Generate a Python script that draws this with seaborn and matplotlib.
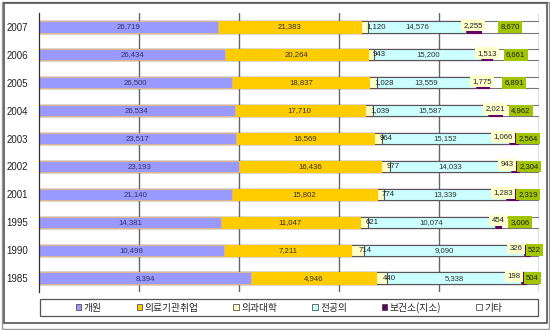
import numpy as np
import pandas as pd
import matplotlib
matplotlib.use("Agg")
import matplotlib.pyplot as plt
import seaborn as sns
from matplotlib.patches import Patch, Rectangle

years = ['2007', '2006', '2005', '2004', '2003', '2002', '2001', '1995', '1990', '1985']
series_names = ['개원', '의료기관취업', '의과대학', '전공의', '보건소(지소)', '기타']
gaewon = [26719, 26434, 26500, 26534, 23517, 23193, 21140, 14381, 10498, 8394]
uiryo = [21383, 20264, 18837, 17710, 16569, 16436, 15802, 11047, 7211, 4946]
uidae = [1120, 943, 1028, 1039, 964, 977, 774, 621, 714, 440]
jeongong = [14576, 15200, 13559, 15587, 15152, 14033, 13339, 10074, 9090, 5338]
bogeonso = [2255, 1513, 1775, 2021, 1066, 943, 1283, 454, 326, 198]
gita = [8670, 6661, 6891, 4962, 2564, 2304, 2319, 3006, 522, 504]

colors = ['#9999FF', '#FFCC00', '#FFFFCC', '#CCFFFF', '#660066', '#FFFFFF']
edges = ['#D8B890', '#FFCC00', '#555555', '#555555', '#660066', '#777777']
label_colors = ['#333366', '#333333', '#222222', '#333333', '#222222', '#222222']
label_bg = [None, None, None, None, '#FFFFCC', '#A3C400']

sns.set_theme(style="white")
plt.rcParams['font.family'] = ['Liberation Sans', 'Noto Sans CJK KR', 'DejaVu Sans']

values = np.array([gaewon, uiryo, uidae, jeongong, bogeonso, gita], dtype=float)
totals = values.sum(axis=0)
shares = values / totals
cum = np.cumsum(shares, axis=0)

fig = plt.figure(figsize=(5.5, 3.3), dpi=100)
ax = fig.add_axes([39 / 550, 1 - 292 / 330, 500 / 550, (292 - 13) / 330])

for gx in [0.2, 0.4, 0.6, 0.8, 1.0]:
    ax.axvline(gx, color='#666666', lw=1.0, zorder=0)

for i in range(len(series_names) - 1, -1, -1):
    df = pd.DataFrame({'year': years, 'cum': cum[i]})
    sns.barplot(data=df, x='cum', y='year', order=years, orient='h',
                color=colors[i], edgecolor=edges[i], linewidth=0.8,
                width=0.4, saturation=1, ax=ax, zorder=2)

ax.set_xlim(0, 1)
ax.set_ylim(len(years) - 0.5, -0.5)
ax.set_xlabel('')
ax.set_ylabel('')
ax.set_xticks([])

def fmt(v):
    return f"{int(v):,}"

FS = 5.6
PADPX = 0.3 * FS * 100 / 72

gita_texts = {}
for i in range(len(series_names)):
    if i == 4:
        continue
    for j, yr in enumerate(years):
        start = cum[i][j] - shares[i][j]
        xc = start + shares[i][j] / 2
        txt = fmt(values[i][j])
        kw = dict(va='center', fontsize=FS, color=label_colors[i], zorder=5)
        if label_bg[i]:
            kw['bbox'] = dict(boxstyle='square,pad=0.3', fc=label_bg[i], ec='none')
        if i == 2:
            ax.text(xc + 0.003, j, txt, ha='left', **kw)
        else:
            t = ax.text(xc, j, txt, ha='center', **kw)
            if i == 5:
                gita_texts[j] = t

fig.canvas.draw()
renderer = fig.canvas.get_renderer()

def px_to_data_x(px):
    return ax.transData.inverted().transform((px, 0))[0]

# 보건소 labels: centered on segment, shifted left if they would hit the 기타 label
i = 4
for j, yr in enumerate(years):
    start = cum[i][j] - shares[i][j]
    xc = start + shares[i][j] / 2
    t = ax.text(xc, j - 0.06, fmt(values[i][j]), ha='center', va='center',
                fontsize=FS, color=label_colors[i], zorder=5,
                bbox=dict(boxstyle='square,pad=0.3', fc=label_bg[i], ec='none'))
    own = t.get_window_extent(renderer)
    gb = gita_texts[j].get_window_extent(renderer)
    right_px = own.x1 + PADPX
    limit_px = gb.x0 - PADPX - 1
    if right_px > limit_px:
        shift = px_to_data_x(right_px) - px_to_data_x(limit_px)
        t.set_x(xc - shift)

ax.set_yticks(range(len(years)))
ax.set_yticklabels(years, fontsize=7, color='#222222')
ax.tick_params(axis='y', which='major', length=0, pad=8)
ax.set_yticks(np.arange(-0.5, len(years), 1), minor=True)
ax.tick_params(axis='y', which='minor', direction='in', length=4, width=0.8, color='#333333')
for s in ['top', 'right', 'bottom']:
    ax.spines[s].set_visible(False)
ax.spines['left'].set_color('#333333')
ax.spines['left'].set_linewidth(0.9)

# legend
handles = [Patch(facecolor=c, edgecolor='#333333', linewidth=0.5) for c in colors]
leg = fig.legend(handles, series_names, loc='center',
                 bbox_to_anchor=(289 / 550, 1 - 307.5 / 330),
                 ncol=6, frameon=False,
                 handlelength=0.55, handleheight=0.55, handletextpad=0.25,
                 columnspacing=3.6, borderpad=0.1, borderaxespad=0,
                 prop={'family': ['Noto Sans CJK KR', 'DejaVu Sans'], 'size': 7})
fig.patches.append(Rectangle((40 / 550, 1 - 316 / 330), 498 / 550, 17 / 330,
                             transform=fig.transFigure, fill=False,
                             ec='#555555', lw=0.9))

# outer chart frame
fig.patches.append(Rectangle((1.5 / 550, 1.5 / 330), 547 / 550, 327 / 330,
                             transform=fig.transFigure, fill=False,
                             ec='#999999', lw=1.0))
fig.patches.append(Rectangle((3.5 / 550, 7.5 / 330), 543 / 550, 320 / 330,
                             transform=fig.transFigure, fill=False,
                             ec='#555555', lw=1.2))

fig.savefig('out.png', dpi=100)
